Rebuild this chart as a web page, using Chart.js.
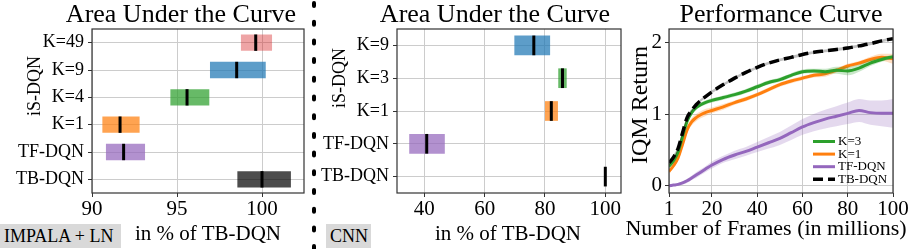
<!DOCTYPE html>
<html>
<head>
<meta charset="utf-8">
<script src="https://cdn.jsdelivr.net/npm/chart.js@4.4.1/dist/chart.umd.min.js"></script>
<style>
  body { margin: 0; background: #fff; }
  #fig { position: relative; width: 913px; height: 249px; overflow: hidden;
         font-family: "Liberation Serif", "DejaVu Serif", serif; color: #000; }
  canvas { position: absolute; top: 0; }
  .txt { position: absolute; white-space: nowrap; line-height: 1; }
  .center { transform: translateX(-50%); }
  .rot { transform: translate(-50%, -50%) rotate(-90deg); }
  .badge { position: absolute; top: 224px; height: 24px; line-height: 24px; background: #d9d9d9;
           font-size: 18px; padding-left: 4px; box-sizing: border-box; white-space: nowrap; }
</style>
</head>
<body>
<div id="fig">
  <canvas id="impalaChart" width="310" height="249" style="left:0px"></canvas>
  <canvas id="cnnChart" width="318" height="249" style="left:310px"></canvas>
  <canvas id="curveChart" width="285" height="249" style="left:628px"></canvas>

  <svg style="position:absolute;left:310px;top:0" width="8" height="249">
    <line x1="4" y1="3" x2="4" y2="249" stroke="#000" stroke-width="4" stroke-linecap="round" stroke-dasharray="3 15.7"></line>
  </svg>

  <div class="txt center" style="left:181px;top:1px;font-size:26px">Area Under the Curve</div>
  <div class="txt center" style="left:495px;top:1px;font-size:26px">Area Under the Curve</div>
  <div class="txt center" style="left:781px;top:1px;font-size:26px">Performance Curve</div>

  <div class="txt rot" style="left:34px;top:86px;font-size:18px">iS-DQN</div>
  <div class="txt rot" style="left:339px;top:78px;font-size:18px">iS-DQN</div>
  <div class="txt rot" style="left:639px;top:105px;font-size:24px">IQM Return</div>

  <div class="txt center" style="left:208px;top:223px;font-size:21px">in % of TB-DQN</div>
  <div class="txt center" style="left:508px;top:223px;font-size:21px">in % of TB-DQN</div>
  <div class="txt center" style="left:766px;top:217px;font-size:22px">Number of Frames (in millions)</div>

  <div class="badge" style="left:0px;width:121px">IMPALA + LN</div>
  <div class="badge" style="left:326px;width:45px">CNN</div>
</div>

<script>
// IMPALA + LN panel, area under the curve in % of TB-DQN
const impalaLabels = ["K=49", "K=9", "K=4", "K=1", "TF-DQN", "TB-DQN"];
const impalaLow    = [98.76, 96.94, 94.61, 90.61, 90.82, 98.55];
const impalaHigh   = [100.59, 100.22, 96.90, 92.80, 93.12, 101.70];
const impalaMedian = [99.63, 98.51, 95.59, 91.65, 91.86, 100.00];
const impalaTicks  = [90, 95, 100];

// CNN panel
const cnnLabels = ["K=9", "K=3", "K=1", "TF-DQN", "TB-DQN"];
const cnnLow    = [69.85, 84.4, 80.0, 35.0, 100.0];
const cnnHigh   = [81.7, 87.2, 84.3, 46.8, 100.0];
const cnnMedian = [76.3, 85.8, 82.1, 40.8, 100.0];
const cnnTicks  = [40, 60, 80, 100];

// performance curve (IQM return vs frames in millions)
const frames = [1, 3, 5, 7, 9, 11, 13, 15, 17, 20, 25, 30, 35, 40, 45, 50, 55, 60, 65, 70, 75, 80, 85, 90, 95, 100];
const k3Mean = [0.27, 0.35, 0.47, 0.69, 0.90, 1.02, 1.09, 1.13, 1.16, 1.19, 1.23, 1.27, 1.32, 1.38, 1.44, 1.48, 1.54, 1.59, 1.60, 1.59, 1.61, 1.60, 1.64, 1.71, 1.76, 1.80];
const k3Err  = [0.03, 0.03, 0.03, 0.03, 0.03, 0.03, 0.03, 0.03, 0.03, 0.03, 0.03, 0.03, 0.03, 0.03, 0.03, 0.03, 0.03, 0.03, 0.03, 0.04, 0.05, 0.06, 0.05, 0.04, 0.03, 0.03];
const k1Mean = [0.20, 0.28, 0.39, 0.58, 0.78, 0.89, 0.95, 0.99, 1.02, 1.05, 1.10, 1.16, 1.21, 1.27, 1.34, 1.41, 1.46, 1.50, 1.54, 1.56, 1.61, 1.67, 1.71, 1.76, 1.79, 1.77];
const k1Err  = [0.03, 0.03, 0.03, 0.04, 0.05, 0.05, 0.05, 0.05, 0.05, 0.04, 0.04, 0.03, 0.03, 0.03, 0.03, 0.03, 0.03, 0.03, 0.03, 0.04, 0.03, 0.03, 0.03, 0.04, 0.05, 0.07];
const tfMean = [0.00, 0.01, 0.02, 0.04, 0.07, 0.11, 0.15, 0.19, 0.23, 0.29, 0.37, 0.43, 0.48, 0.54, 0.60, 0.66, 0.74, 0.82, 0.88, 0.93, 0.97, 1.01, 1.05, 1.02, 1.01, 1.01];
const tfErr  = [0.01, 0.01, 0.02, 0.02, 0.03, 0.03, 0.04, 0.04, 0.04, 0.05, 0.05, 0.06, 0.06, 0.07, 0.08, 0.09, 0.10, 0.11, 0.12, 0.13, 0.14, 0.15, 0.16, 0.17, 0.18, 0.20];
const tbMean = [0.32, 0.40, 0.52, 0.74, 0.95, 1.05, 1.13, 1.19, 1.24, 1.31, 1.41, 1.50, 1.58, 1.65, 1.71, 1.755, 1.79, 1.83, 1.86, 1.88, 1.90, 1.92, 1.95, 1.98, 2.02, 2.05];
const tbErr  = [0.03, 0.03, 0.03, 0.03, 0.03, 0.02, 0.02, 0.02, 0.02, 0.02, 0.02, 0.02, 0.02, 0.02, 0.02, 0.02, 0.02, 0.02, 0.02, 0.02, 0.02, 0.02, 0.02, 0.02, 0.02, 0.02];
const curveXTicks = [1, 20, 40, 60, 80, 100];
const curveYTicks = [0, 1, 2];
const legendOrder = ["K=3", "K=1", "TF-DQN", "TB-DQN"];

// styles
const SERIF = "'Liberation Serif', 'DejaVu Serif', serif";
const GRID = "#cccccc";
const AXIS = "#333333";
const barColor = {
    "K=49": "rgba(214,39,40,0.42)",
    "K=9": "rgba(31,119,180,0.72)",
    "K=4": "rgba(44,160,44,0.72)",
    "K=3": "rgba(44,160,44,0.72)",
    "K=1": "rgba(255,127,14,0.72)",
    "TF-DQN": "rgba(148,103,189,0.72)",
    "TB-DQN": "rgba(0,0,0,0.7)"
};

Chart.defaults.font.family = SERIF;
Chart.defaults.color = "#000";

// black median tick across each bar
const medianLines = {
    id: "medianLines",
    afterDatasetsDraw(chart) {
        const ds = chart.data.datasets[0];
        const meta = chart.getDatasetMeta(0);
        const xs = chart.scales.x;
        const ctx = chart.ctx;
        ctx.save();
        ctx.strokeStyle = "#000";
        ctx.lineWidth = 3;
        meta.data.forEach((bar, i) => {
            const x = xs.getPixelForValue(ds.medians[i]);
            ctx.beginPath();
            ctx.moveTo(x, bar.y - bar.height / 2);
            ctx.lineTo(x, bar.y + bar.height / 2);
            ctx.stroke();
        });
        ctx.restore();
    }
};

// axes box on all four sides
const frameBox = {
    id: "frameBox",
    afterDraw(chart) {
        const a = chart.chartArea;
        const ctx = chart.ctx;
        ctx.save();
        ctx.strokeStyle = AXIS;
        ctx.lineWidth = 1.2;
        ctx.strokeRect(a.left, a.top, a.right - a.left, a.bottom - a.top);
        ctx.restore();
    }
};

function aucChart(id, labels, low, high, median, ticks, xMin, xMax, yWidth, padRight) {
    return new Chart(document.getElementById(id), {
        type: "bar",
        data: {
            labels: labels,
            datasets: [{
                data: labels.map((_, i) => [low[i], high[i]]),
                backgroundColor: labels.map(l => barColor[l]),
                borderWidth: 0,
                barPercentage: 0.6,
                categoryPercentage: 1.0,
                medians: median
            }]
        },
        options: {
            indexAxis: "y",
            responsive: false,
            animation: false,
            devicePixelRatio: 1,
            layout: { padding: { top: 29, right: padRight, left: 0, bottom: 0 } },
            plugins: { legend: { display: false }, tooltip: { enabled: false } },
            scales: {
                x: {
                    type: "linear", min: xMin, max: xMax,
                    afterBuildTicks: axis => { axis.ticks = ticks.map(v => ({ value: v })); },
                    afterFit: axis => { axis.height = 56; },
                    grid: { color: GRID, tickColor: AXIS, tickLength: 4 },
                    border: { display: false },
                    ticks: { font: { size: 21 }, padding: 0, maxRotation: 0 }
                },
                y: {
                    type: "category", offset: true,
                    afterFit: axis => { axis.width = yWidth; },
                    grid: { offset: false, color: GRID, tickColor: AXIS, tickLength: 4 },
                    border: { display: false },
                    ticks: { font: { size: 18 }, padding: 4 }
                }
            }
        },
        plugins: [medianLines, frameBox]
    });
}

aucChart("impalaChart", impalaLabels, impalaLow, impalaHigh, impalaMedian, impalaTicks, 90, 102.47, 92, 6);
aucChart("cnnChart", cnnLabels, cnnLow, cnnHigh, cnnMedian, cnnTicks, 30.95, 105.2, 87, 7);

// legend drawn inside the plot, lower right, no frame
const curveLegend = {
    id: "curveLegend",
    afterDraw(chart) {
        const ctx = chart.ctx;
        const a = chart.chartArea;
        const x0 = a.right - 80;
        const y0 = a.bottom - 51.5;
        ctx.save();
        ctx.font = "13px " + SERIF;
        ctx.textBaseline = "middle";
        legendOrder.forEach((name, i) => {
            const ds = chart.data.datasets.find(d => d.label === name);
            const y = y0 + i * 12.6;
            ctx.strokeStyle = ds.borderColor;
            ctx.lineWidth = ds.borderWidth;
            ctx.setLineDash(ds.borderDash || []);
            ctx.beginPath();
            ctx.moveTo(x0, y);
            ctx.lineTo(x0 + 22, y);
            ctx.stroke();
            ctx.setLineDash([]);
            ctx.fillStyle = "#000";
            ctx.fillText(name, x0 + 25, y);
        });
        ctx.restore();
    }
};

function curveSets(label, mean, err, color, band, width, dash, order) {
    const common = { pointRadius: 0, cubicInterpolationMode: "monotone", tension: 0.3 };
    return [
        Object.assign({ label: label + " hi", data: frames.map((f, i) => ({ x: f, y: mean[i] + err[i] })),
            fill: "+1", backgroundColor: band, borderWidth: 0, order: order + 0.5 }, common),
        Object.assign({ label: label + " lo", data: frames.map((f, i) => ({ x: f, y: mean[i] - err[i] })),
            fill: false, borderWidth: 0, order: order + 0.5 }, common),
        Object.assign({ label: label, data: frames.map((f, i) => ({ x: f, y: mean[i] })),
            fill: false, borderColor: color, borderWidth: width, borderDash: dash, order: order }, common)
    ];
}

new Chart(document.getElementById("curveChart"), {
    type: "line",
    data: {
        datasets: [
            ...curveSets("TB-DQN", tbMean, tbErr, "#000000", "rgba(0,0,0,0.25)", 3.5, [10, 5], 0),
            ...curveSets("K=3", k3Mean, k3Err, "#2ca02c", "rgba(44,160,44,0.25)", 3, [], 1),
            ...curveSets("K=1", k1Mean, k1Err, "#ff7f0e", "rgba(255,127,14,0.25)", 3, [], 2),
            ...curveSets("TF-DQN", tfMean, tfErr, "#9467bd", "rgba(148,103,189,0.25)", 3, [], 3)
        ]
    },
    options: {
        responsive: false,
        animation: false,
        devicePixelRatio: 1,
        layout: { padding: { top: 29, right: 20, left: 0, bottom: 0 } },
        plugins: { legend: { display: false }, tooltip: { enabled: false } },
        scales: {
            x: {
                type: "linear", min: 1, max: 100,
                afterBuildTicks: axis => { axis.ticks = curveXTicks.map(v => ({ value: v })); },
                afterFit: axis => { axis.height = 56; },
                grid: { color: GRID, tickColor: AXIS, tickLength: 4 },
                border: { display: false },
                ticks: { font: { size: 21 }, padding: 0, maxRotation: 0 }
            },
            y: {
                type: "linear", min: -0.1, max: 2.185,
                afterBuildTicks: axis => { axis.ticks = curveYTicks.map(v => ({ value: v })); },
                afterFit: axis => { axis.width = 41; },
                grid: { color: GRID, tickColor: AXIS, tickLength: 4 },
                border: { display: false },
                ticks: { font: { size: 21 }, padding: 3 }
            }
        }
    },
    plugins: [curveLegend, frameBox]
});
</script>
</body>
</html>
